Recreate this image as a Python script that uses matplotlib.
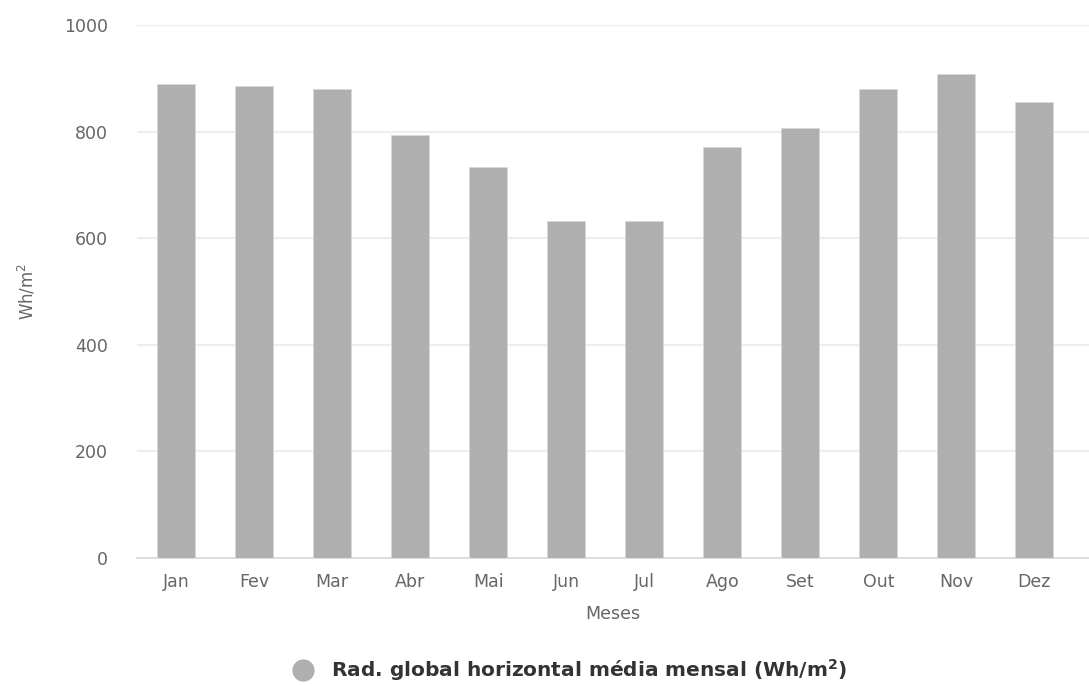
import matplotlib
matplotlib.use('Agg')
import matplotlib.pyplot as plt
from matplotlib.lines import Line2D

# ── Data ─────────────────────────────────────────────────────────────────────
meses   = ['Jan', 'Fev', 'Mar', 'Abr', 'Mai', 'Jun',
           'Jul', 'Ago', 'Set', 'Out', 'Nov', 'Dez']
rad_glb = [889, 886, 880, 793, 734, 632, 632, 771, 806, 880, 909, 856]
yticks  = [0, 200, 400, 600, 800, 1000]

BAR   = '#afafaf'
GRID  = '#eeeeee'
TICK  = '#666666'

plt.rcParams.update({'font.family': 'DejaVu Sans'})

fig = plt.figure(figsize=(10.89, 6.86), dpi=100)
ax = fig.add_axes([137/1089, 128/686, 1 - 137/1089, (558-25)/686])

x = range(len(meses))
ax.bar(x, rad_glb, width=0.49, color=BAR, edgecolor='#d8d8d8', lw=0.6, zorder=3)

ax.set_ylim(0, 1000)
ax.set_xlim(-0.5, 11.7)
ax.set_yticks(yticks)
ax.set_xticks(list(x))
ax.set_xticklabels(meses)
ax.grid(axis='y', color=GRID, lw=1.6, zorder=0)
ax.set_axisbelow(True)

for s in ['top', 'right', 'left']:
    ax.spines[s].set_visible(False)
ax.spines['bottom'].set_color('#dddddd')
ax.spines['bottom'].set_linewidth(1.4)

ax.tick_params(axis='y', length=0, pad=21, labelsize=12.5, labelcolor=TICK)
ax.tick_params(axis='x', length=0, pad=11, labelsize=12.5, labelcolor=TICK)

ax.set_xlabel('Meses', fontsize=12.5, color=TICK, labelpad=10)
ax.set_ylabel('Wh/m$^2$', fontsize=12, color=TICK)
ax.yaxis.set_label_coords(-0.105, 0.5)

handle = Line2D([], [], marker='o', ls='none', ms=15, color=BAR)
fig.legend([handle], ['Rad. global horizontal média mensal (Wh/m$^\\mathbf{2}$)'],
           loc='center', bbox_to_anchor=(565/1089, 1 - 670/686),
           frameon=False, handletextpad=0.4, borderpad=0.2,
           prop={'size': 14.5, 'weight': 'bold'}, labelcolor='#333333')

fig.savefig('out.png', dpi=100, facecolor='white')
